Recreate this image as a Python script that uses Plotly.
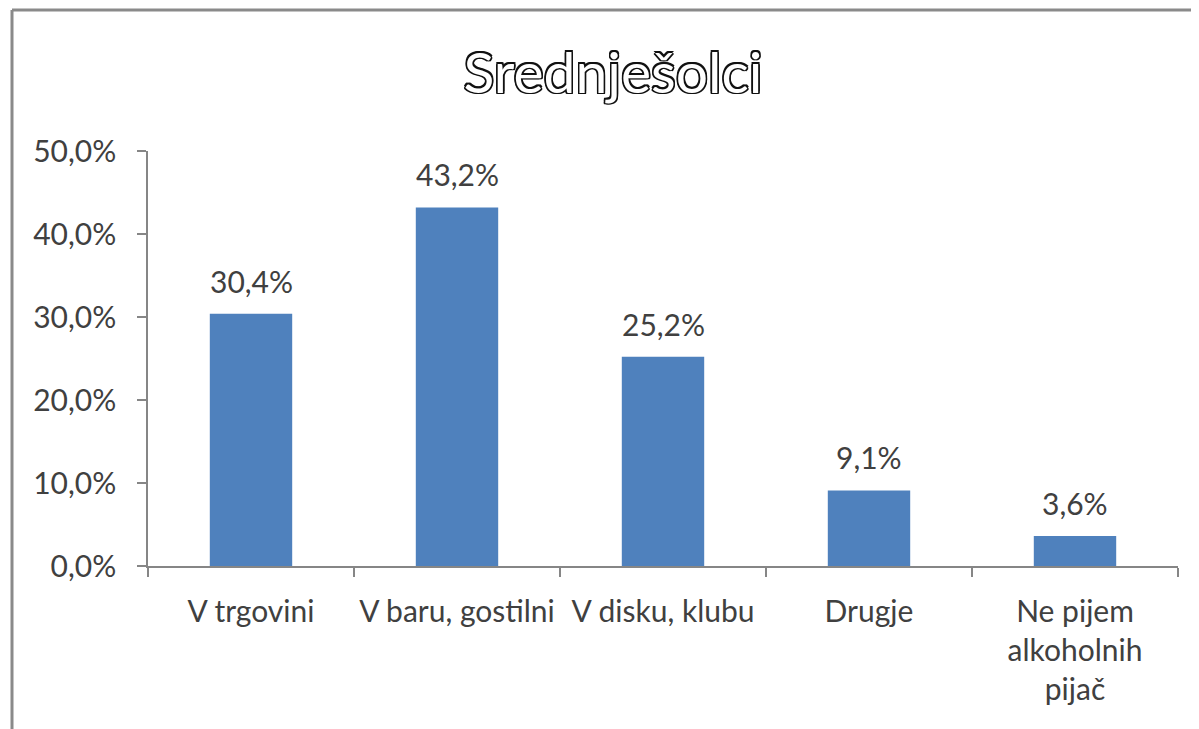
import plotly.graph_objects as go

categories = ["V trgovini", "V baru, gostilni", "V disku, klubu", "Drugje", "Ne pijem<br>alkoholnih<br>pijač"]
values = [0.304, 0.432, 0.252, 0.091, 0.036]
labels = ["30,4%", "43,2%", "25,2%", "9,1%", "3,6%"]
title_text = "Srednješolci"

OFF = 8  # browser body margin
W, H = 1199 - OFF, 729 - OFF
L, R, T, B = 148 - OFF, 21, 151 - OFF, 163
pw, ph = W - L - R, H - T - B

def px_x(x):
    return (x - OFF - L) / pw

def px_y(y):
    return (H - B - (y - OFF)) / ph

FONT = "Lato"
TXT = "#404040"

fig = go.Figure(go.Bar(
    x=categories, y=values,
    marker=dict(color="#4F81BD", line=dict(width=0)),
    width=0.4,
))

for c, v, t in zip(categories, values, labels):
    fig.add_annotation(x=c, y=v, text=t, showarrow=False, yanchor="middle",
                       yshift=33, font=dict(size=30, color=TXT, family=FONT))

outline = ", ".join(f"{dx}px {dy}px 0 #111" for dx, dy in
                    [(1.5, 1.5), (-1.5, -1.5), (1.5, -1.5), (-1.5, 1.5), (0, 1.5), (0, -1.5), (1.5, 0), (-1.5, 0)])

fig.update_layout(
    width=W, height=H,
    margin=dict(l=L, r=R, t=T, b=B),
    paper_bgcolor="white", plot_bgcolor="white",
    separators=",.",
    showlegend=False,
    font=dict(family=FONT, color=TXT, size=30),
    title=dict(
        text=title_text, x=px_x(613), xref="paper", xanchor="center",
        y=1 - (73 - OFF) / H, yanchor="middle",
        font=dict(family=FONT, size=57, color="white", shadow=outline),
    ),
    yaxis=dict(
        range=[0, 0.5], tickvals=[0, 0.1, 0.2, 0.3, 0.4, 0.5], tickformat=".1%",
        showgrid=False, zeroline=False,
        showline=True, linecolor="#868686", linewidth=1.5,
        ticks="outside", ticklen=9, tickcolor="#868686", tickwidth=1.5,
        ticklabelstandoff=15,
        tickfont=dict(size=30, color=TXT, family=FONT),
    ),
    xaxis=dict(
        showgrid=False, showline=True, linecolor="#868686", linewidth=1.5,
        ticks="outside", ticklen=9, tickcolor="#868686", tickwidth=1.5,
        tickson="boundaries", ticklabelstandoff=18,
        tickfont=dict(size=30, color=TXT, family=FONT),
        range=[-0.5, 4.5],
    ),
    shapes=[
        dict(type="line", xref="paper", yref="paper",
             x0=px_x(12), x1=px_x(1199), y0=px_y(10), y1=px_y(10),
             line=dict(color="#8a8a8a", width=3)),
        dict(type="line", xref="paper", yref="paper",
             x0=px_x(12), x1=px_x(12), y0=px_y(10), y1=px_y(729),
             line=dict(color="#8a8a8a", width=3)),
    ],
)

fig.write_html("out.html")
